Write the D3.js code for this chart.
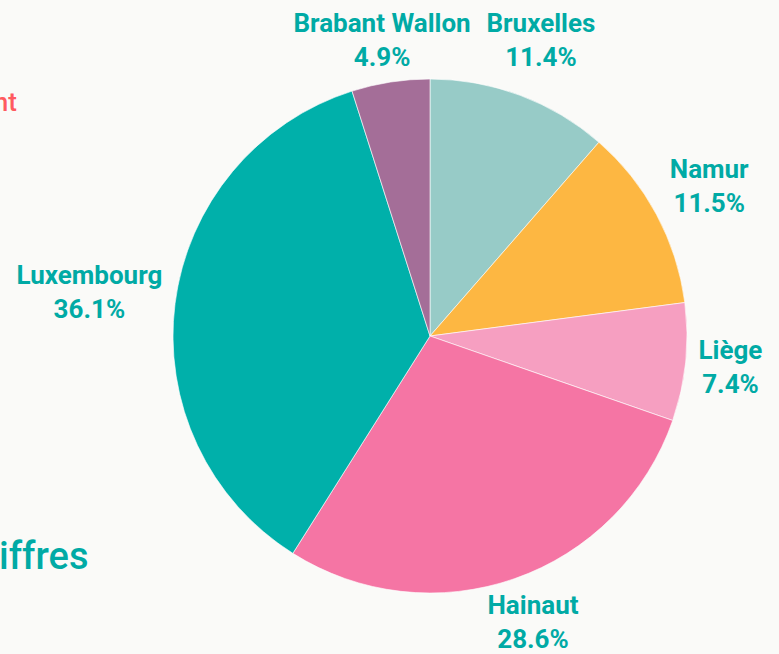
<!DOCTYPE html>
<html>
<head>
<meta charset="utf-8">
<script src="https://cdn.jsdelivr.net/npm/d3@7"></script>
<style>
  html, body { margin: 0; padding: 0; background: #fafaf8; overflow: hidden; }
  text { font-family: "Roboto", sans-serif; }
</style>
</head>
<body>
<div id="chart"></div>
<script>
// Provinces, clockwise from 12 o'clock
var provinces = ["Bruxelles", "Namur", "Liège", "Hainaut", "Luxembourg", "Brabant Wallon"];
var shares = [11.4, 11.5, 7.4, 28.6, 36.1, 4.9];
var sliceColors = ["#97cbc7", "#fdb742", "#f69fc1", "#f575a4", "#00b0aa", "#a46e98"];

var fullWidth = 779, fullHeight = 654;
var cx = 430, cy = 336, radius = 257;

var svg = d3.select("#chart")
    .append("svg")
    .attr("width", fullWidth)
    .attr("height", fullHeight);

svg.append("rect")
    .attr("width", fullWidth)
    .attr("height", fullHeight)
    .attr("fill", "#fafaf8");

// Cropped text from the surrounding page
svg.append("text")
    .attr("x", 17).attr("y", 111)
    .attr("text-anchor", "end")
    .attr("fill", "#ff5a5f")
    .style("font-size", "26px")
    .style("font-weight", 500)
    .text("nt");

svg.append("text")
    .attr("x", -1).attr("y", 569)
    .attr("fill", "#00aaa5")
    .style("font-size", "38px")
    .style("font-weight", 500)
    .text("iffres");

var data = provinces.map(function(p, i) {
    return { name: p, value: shares[i], color: sliceColors[i] };
});

var pie = d3.pie()
    .sort(null)
    .value(function(d) { return d.value; });

var arc = d3.arc()
    .innerRadius(0)
    .outerRadius(radius);

var g = svg.append("g")
    .attr("transform", "translate(" + cx + "," + cy + ")");

var arcs = pie(data);

g.selectAll("path")
    .data(arcs)
    .enter().append("path")
    .attr("d", arc)
    .attr("fill", function(d) { return d.data.color; })
    .attr("stroke", "#ffffff")
    .attr("stroke-opacity", 0.6)
    .attr("stroke-width", 1);

// Labels: pushed outward along the mid angle until the box clears the pie
var offset = 10;
var labels = g.selectAll(".label")
    .data(arcs)
    .enter().append("text")
    .attr("class", "label")
    .attr("text-anchor", "middle")
    .attr("fill", "#00aaa5")
    .style("font-size", "26px")
    .style("font-weight", 700);

labels.append("tspan")
    .attr("x", 0).attr("y", 0)
    .text(function(d) { return d.data.name; });

labels.append("tspan")
    .attr("x", 0).attr("y", 34)
    .text(function(d) { return d.data.value.toFixed(1) + "%"; });

labels.each(function(d) {
    var bb = this.getBBox();
    var a = (d.startAngle + d.endAngle) / 2;
    var dx = Math.sin(a), dy = -Math.cos(a);
    var support = Math.abs(dx) * bb.width / 2 + Math.abs(dy) * bb.height / 2;
    var r = radius + offset + support;
    var px = dx * r, py = dy * r;
    // keep the label inside the page
    var top = cy + py - bb.height / 2;
    if (top < 8) py += 8 - top;
    var bottom = cy + py + bb.height / 2;
    if (bottom > fullHeight) py -= bottom - fullHeight;
    var tx = px - (bb.x + bb.width / 2);
    var ty = py - (bb.y + bb.height / 2);
    d3.select(this).attr("transform", "translate(" + tx + "," + ty + ")");
});
</script>
</body>
</html>
